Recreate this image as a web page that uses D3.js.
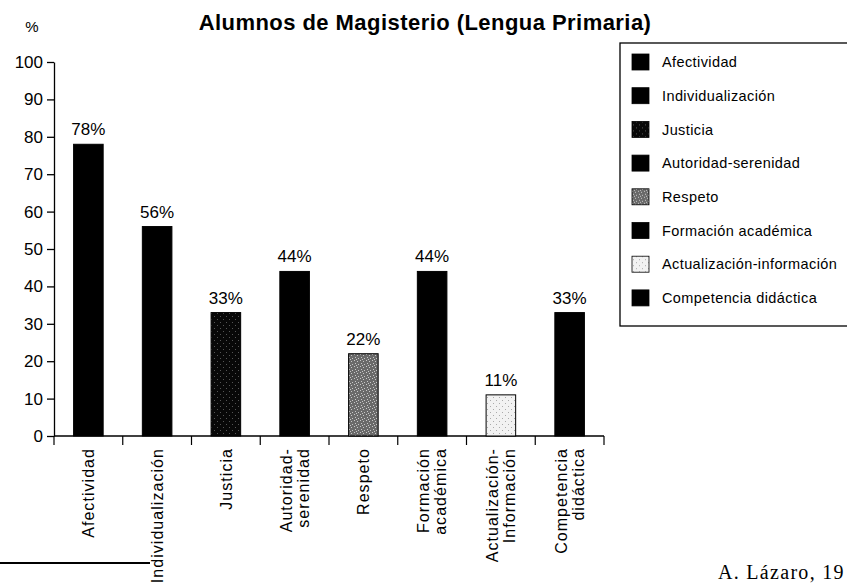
<!DOCTYPE html>
<html>
<head>
<meta charset="utf-8">
<script src="https://cdn.jsdelivr.net/npm/d3@7"></script>
<style>
  body { margin: 0; background: #fff; }
  svg { display: block; font-family: "Liberation Sans", Arial, Helvetica, sans-serif; }
</style>
</head>
<body>
<svg id="chart" width="847" height="587"></svg>
<script>
// data
var categories = ["Afectividad", "Individualización", "Justicia", "Autoridad-serenidad",
  "Respeto", "Formación académica", "Actualización-información", "Competencia didáctica"];
var axisLabels = [["Afectividad"], ["Individualización"], ["Justicia"], ["Autoridad-", "serenidad"],
  ["Respeto"], ["Formación", "académica"], ["Actualización-", "Información"], ["Competencia", "didáctica"]];
var values = [78, 56, 33, 44, 22, 44, 11, 33];
var yTicks = [0, 10, 20, 30, 40, 50, 60, 70, 80, 90, 100];
var fills = ["#000", "#000", "url(#pat-justicia)", "#000", "url(#pat-respeto)", "#000", "url(#pat-actual)", "#000"];

var svg = d3.select("#chart");
var defs = svg.append("defs");

// speckle textures for the scanned fills
function speckle(id, base, dot, pts) {
  var p = defs.append("pattern").attr("id", id)
    .attr("patternUnits", "userSpaceOnUse").attr("width", 6).attr("height", 6);
  p.append("rect").attr("width", 6).attr("height", 6).attr("fill", base);
  pts.forEach(function(d) {
    p.append("rect").attr("x", d[0]).attr("y", d[1]).attr("width", 1).attr("height", 1).attr("fill", dot);
  });
}
speckle("pat-justicia", "#080808", "#555", [[1, 1], [4, 4]]);
speckle("pat-respeto", "#6a6a6a", "#c8c8c8", [[0, 0], [3, 1], [1, 3], [4, 4], [2, 5]]);
speckle("pat-actual", "#f2f2f2", "#aaa", [[1, 1], [4, 4]]);

var x = d3.scaleBand().domain(categories).range([54, 604]).paddingInner(0.57).paddingOuter(0.285);
var y = d3.scaleLinear().domain([0, 100]).range([436, 62]);
var step = x.step();

// title
svg.append("text")
  .attr("x", 425).attr("y", 30)
  .attr("text-anchor", "middle")
  .style("font-size", "22px").style("font-weight", "bold").style("letter-spacing", "0.45px")
  .text("Alumnos de Magisterio (Lengua Primaria)");

svg.append("text").attr("x", 32).attr("y", 32).attr("text-anchor", "middle")
  .style("font-size", "15px").text("%");

// y axis
var yAxis = d3.axisLeft(y).tickValues(yTicks).tickSize(7).tickPadding(4).tickSizeOuter(0);
var gy = svg.append("g").attr("transform", "translate(54,0)").call(yAxis);
gy.selectAll("text").style("font-size", "17px").style("font-family", "inherit").attr("fill", "#000");
gy.selectAll("line, path").attr("stroke", "#000").attr("stroke-width", 1.3);

// x axis line with ticks at band boundaries
var gx = svg.append("g");
gx.append("line").attr("x1", 54).attr("x2", 604).attr("y1", 436).attr("y2", 436)
  .attr("stroke", "#000").attr("stroke-width", 1.5);
gx.selectAll(".bt").data(d3.range(categories.length + 1)).enter().append("line")
  .attr("x1", function(i) { return 54 + i * step; })
  .attr("x2", function(i) { return 54 + i * step; })
  .attr("y1", 436).attr("y2", 445)
  .attr("stroke", "#000").attr("stroke-width", 1.2);

// bars
svg.selectAll(".bar").data(values).enter().append("rect")
  .attr("x", function(d, i) { return x(categories[i]); })
  .attr("y", function(d) { return y(d); })
  .attr("width", x.bandwidth())
  .attr("height", function(d) { return y(0) - y(d); })
  .attr("fill", function(d, i) { return fills[i]; })
  .attr("stroke", "#000").attr("stroke-width", 1);

// value labels
svg.selectAll(".val").data(values).enter().append("text")
  .attr("x", function(d, i) { return x(categories[i]) + x.bandwidth() / 2; })
  .attr("y", function(d) { return y(d) - 9; })
  .attr("text-anchor", "middle")
  .style("font-size", "17px")
  .text(function(d) { return d + "%"; });

// rotated category labels
var lab = svg.selectAll(".lab").data(axisLabels).enter().append("g")
  .attr("transform", function(d, i) {
    return "translate(" + (x(categories[i]) + x.bandwidth() / 2) + ",448) rotate(-90)";
  });
lab.selectAll("text").data(function(d) { return d; }).enter().append("text")
  .attr("text-anchor", "end")
  .attr("y", function(d, j, nodes) { return (j - (nodes.length - 1) / 2) * 17; })
  .attr("dy", "0.36em")
  .style("font-size", "16px").style("letter-spacing", "1.05px")
  .text(function(d) { return d; });

// legend
var lg = svg.append("g");
lg.append("rect").attr("x", 620).attr("y", 43).attr("width", 240).attr("height", 283)
  .attr("fill", "none").attr("stroke", "#000").attr("stroke-width", 1.3);
var row = lg.selectAll(".lr").data(categories).enter().append("g")
  .attr("transform", function(d, i) { return "translate(632," + (62 + i * 33.7) + ")"; });
row.append("rect").attr("x", 0).attr("y", -8).attr("width", 17).attr("height", 16)
  .attr("fill", function(d, i) { return fills[i]; })
  .attr("stroke", "#000").attr("stroke-width", 0.8);
row.append("text").attr("x", 30).attr("dy", "0.36em")
  .style("font-size", "14.5px").style("letter-spacing", "0.4px")
  .text(function(d) { return d; });

// footer
svg.append("line").attr("x1", 0).attr("x2", 150).attr("y1", 563).attr("y2", 563)
  .attr("stroke", "#000").attr("stroke-width", 2);
svg.append("text").attr("x", 718).attr("y", 579)
  .style("font-family", "'Liberation Serif', 'Times New Roman', serif")
  .style("font-size", "20px").style("letter-spacing", "1.3px")
  .text("A. Lázaro, 19");
</script>
</body>
</html>
